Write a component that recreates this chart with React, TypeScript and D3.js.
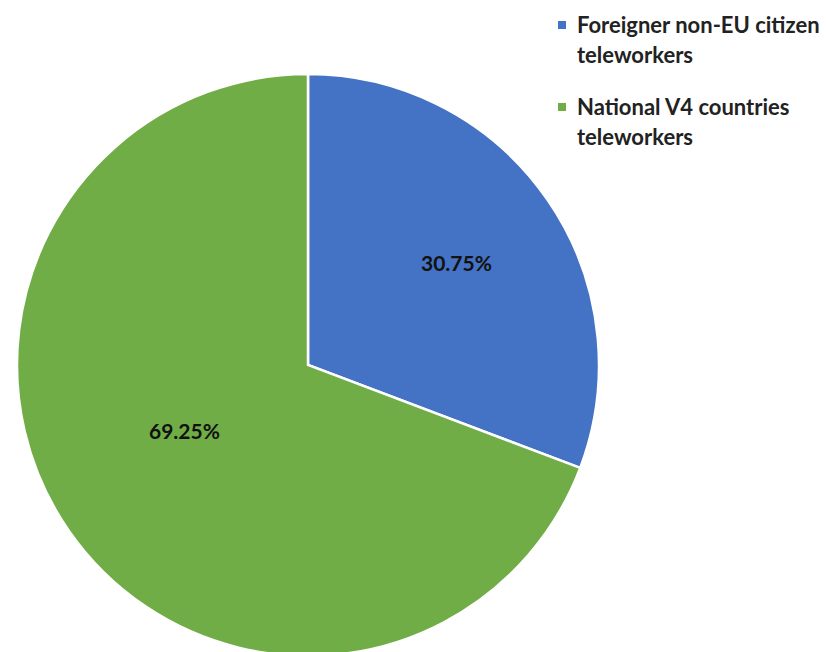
import React from "react";
import * as d3 from "d3";

const categories = ["Foreigner non-EU citizen teleworkers", "National V4 countries teleworkers"];
const values = [30.75, 69.25];
const valueLabels = ["30.75%", "69.25%"];
const legendLines = [["Foreigner non-EU citizen", "teleworkers"], ["National V4 countries", "teleworkers"]];
const colors = ["#4472C4", "#70AD47"];

const W = 826;
const H = 652;
const cx = 308;
const cy = 365;
const R = 291;

export default function App() {
  const pie = d3.pie<number>().sort(null).startAngle(0).endAngle(2 * Math.PI);
  const arcs = pie(values);
  const arc = d3.arc<d3.PieArcDatum<number>>().innerRadius(0).outerRadius(R);
  // label placement radii (fraction of R) and angular shift, Excel-like
  const labelK = [0.62, 0.48];
  const labelShift = [0, 0.12];
  const font = "Lato, 'Open Sans', sans-serif";
  return (
    <svg width={W} height={H} style={{ position: "absolute", left: 0, top: 0, background: "#fff" }}>
      <g transform={`translate(${cx},${cy})`}>
        {arcs.map((a, i) => (
          <path key={i} d={arc(a) || ""} fill={colors[i]} stroke="#fff" strokeWidth={2.5} strokeLinejoin="miter" />
        ))}
        {arcs.map((a, i) => {
          const mid = (a.startAngle + a.endAngle) / 2 + labelShift[i];
          const r = R * labelK[i];
          const x = Math.sin(mid) * r;
          const y = -Math.cos(mid) * r;
          return (
            <text key={i} x={x} y={y} textAnchor="middle" dominantBaseline="central"
              fontFamily={font} fontWeight="bold" fontSize={21} fill="#111">
              {valueLabels[i]}
            </text>
          );
        })}
      </g>
      <g transform="translate(558,0)">
        {legendLines.map((lines, i) => (
          <g key={i} transform={`translate(0,${i * 82})`}>
            <rect x={0} y={21} width={8} height={8} fill={colors[i]} />
            {lines.map((l, j) => (
              <text key={j} x={19} y={33 + j * 30} fontFamily={font} fontWeight="bold" fontSize={22} fill="#222">
                {l}
              </text>
            ))}
          </g>
        ))}
      </g>
    </svg>
  );
}
